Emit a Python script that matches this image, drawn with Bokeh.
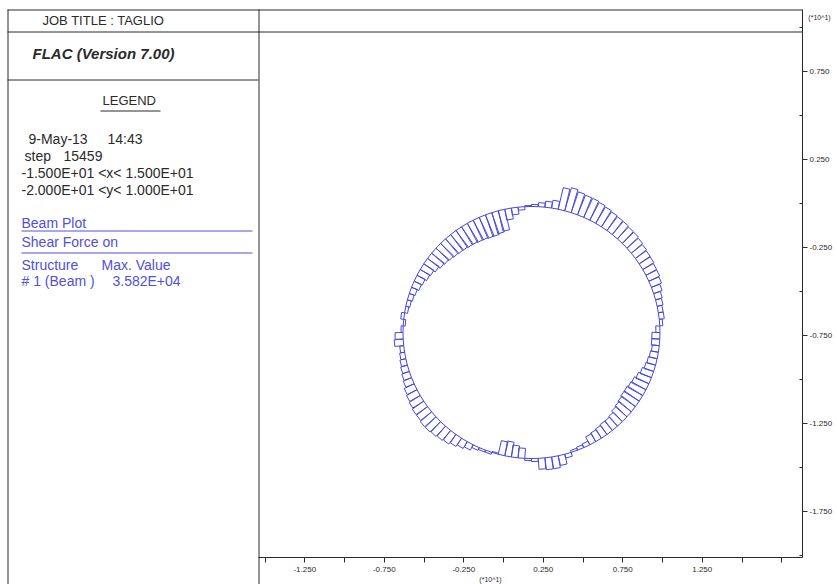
import numpy as np
from bokeh.plotting import figure
from bokeh.models import Range1d, LinearAxis, FixedTicker, PrintfTickFormatter
from bokeh.embed import file_html
from bokeh.resources import INLINE
from bokeh.core.properties import value

# ---------------- data ----------------
# shear force per beam element (kN), elements counter-clockwise from the east springline
shear_kN = [
    -6.0, 4.5, 7.5, 7.2, 9.0, 10.4, 13.4, 16.4, 17.9, 18.2,
    19.4, 19.8, 20.9, 22.4, 23.9, 24.1, 25.4, 25.8, 26.9, 28.4,
    29.9, 31.3, 31.6, 32.8, 35.82, 33.1, 11.9, 9.0, 6.0, 3.0,
    1.5, -4.5, -10.4, -16.4, -31.3, -32.8, -34.3, -34.0, -32.8, -32.5,
    -31.3, -31.0, -29.9, -29.5, -28.4, -26.9, -25.4, -23.9, -20.9, -17.9,
    -16.4, -13.4, -11.9, -9.0, -7.5, -6.0, -4.5, 4.5, -3.0, 3.0,
    11.9, 13.4, 6.0, 7.5, 9.0, 10.4, 11.9, 13.4, 16.4, 17.9,
    19.4, 20.9, 20.9, 22.4, 22.4, 20.9, 19.4, 17.9, 14.9, 11.9,
    9.0, 4.5, 3.0, 3.0, -1.5, -20.9, -22.4, -17.9, -14.9, 3.0,
    4.5, 16.4, 17.9, 17.9, 14.9, 6.0, -3.0, -4.5, -6.0, -13.4,
    -14.9, -16.4, -17.9, -17.9, -19.4, -22.4, -23.9, -25.4, -26.9, -26.9,
    -25.4, -23.9, -20.9, -17.9, -14.9, -13.4, -11.9, -10.4, -11.9, -11.9,
]
max_shear_kN = 35.82
tunnel_cx = 0.176   # (*10^1 m)
tunnel_cy = -0.733
tunnel_rx = 0.808
tunnel_ry = 0.716

x_ticks_major = [-1.25, -0.75, -0.25, 0.25, 0.75, 1.25]
x_ticks_minor = [-1.5, -1.0, -0.5, 0.0, 0.5, 1.0, 1.5, 1.75]
y_ticks_major = [0.75, 0.25, -0.25, -0.75, -1.25, -1.75]
y_ticks_minor = [1.0, 0.5, 0.0, -0.5, -1.0, -1.5, -2.0]

job_title = "JOB TITLE : TAGLIO"
program = "FLAC (Version 7.00)"
legend_head = "LEGEND"
date_txt, time_txt = "9-May-13", "14:43"
step_lbl, step_val = "step", "15459"
x_lim_txt = "-1.500E+01 <x< 1.500E+01"
y_lim_txt = "-2.000E+01 <y< 1.000E+01"
plot_kind = "Beam Plot"
plot_item = "Shear Force on"
col_struct, col_max = "Structure", "Max. Value"
struct_name, struct_max = "# 1 (Beam )", "3.582E+04"
scale_txt = "(*10^1)"

# ---------------- styles / layout ----------------
FONT = "Liberation Sans"
INK = "#2a2a2a"
BLUE = "#5050d8"
BAR = "#4848d8"
W, H = 837, 584
SX, SY = 159.0, 176.0          # screen px per axis unit
X0_PX, Y075_PX = 503.0, 71.0   # page px of x=0 and y=0.75
BAR_PX_MAX = 24.0
FRAME_L, FRAME_R, FRAME_T, FRAME_B = 258, 802, 9, 557

def dx(px):
    return (px - X0_PX) / SX

def dy(py):
    return 0.75 - (py - Y075_PX) / SY

p = figure(width=W, height=H, x_range=Range1d(dx(0), dx(W)), y_range=Range1d(dy(H), dy(0)),
           output_backend="svg", toolbar_location=None,
           x_axis_location=None, y_axis_location=None, min_border=0)
p.extra_x_ranges = {"page": Range1d(0, W)}
p.extra_y_ranges = {"page": Range1d(H, 0)}
p.grid.grid_line_color = None
p.outline_line_color = None
PG = dict(x_range_name="page", y_range_name="page")

# frame / legend box lines (page pixel coords)
p.segment(x0=[7, 7, 7, 7.5, 258.5], y0=[9.5, 31.5, 79.5, 9, 9],
          x1=[802, 802, 258, 7.5, 258.5], y1=[9.5, 31.5, 79.5, 584, 584],
          line_color=INK, line_width=1, **PG)
p.segment(x0=[100], y0=[110.5], x1=[160], y1=[110.5], line_color=INK, line_width=1, **PG)
p.segment(x0=[21, 21], y0=[230.5, 252.5], x1=[252, 252], y1=[230.5, 252.5],
          line_color=BLUE, line_width=1, **PG)

def txt(x, y, s, size, color=INK, style="normal", align="left"):
    p.text(x=[x], y=[y], text=[s], text_font=value(FONT), text_font_size=size,
           text_color=color, text_baseline="middle", text_align=align,
           text_font_style=style, **PG)

txt(42, 20, job_title, "13px")
txt(32, 53, program, "15px", style="bold italic")
txt(102, 100, legend_head, "13px")
txt(28, 138, date_txt, "14px")
txt(107, 138, time_txt, "14px")
txt(24, 155, step_lbl, "14px")
txt(63, 155, step_val, "14px")
txt(21, 172, x_lim_txt, "14px")
txt(21, 189, y_lim_txt, "14px")
txt(21, 222, plot_kind, "14px", BLUE)
txt(21, 241, plot_item, "14px", BLUE)
txt(21, 264, col_struct, "14px", BLUE)
txt(101, 264, col_max, "14px", BLUE)
txt(21, 280, struct_name, "14px", BLUE)
txt(112, 280, struct_max, "14px", BLUE)
txt(819, 17, scale_txt, "7px", align="center")
txt(490, 579, scale_txt, "7px", align="center")

# ---------------- shear force diagram on the beam ----------------
n = len(shear_kN)
th = np.linspace(0.0, 2 * np.pi, n + 1)
bx = tunnel_cx + tunnel_rx * np.cos(th)
by = tunnel_cy + tunnel_ry * np.sin(th)
px_per_kN = BAR_PX_MAX / max_shear_kN
xs, ys = [], []
for i, v in enumerate(shear_kN):
    x0, y0, x1, y1 = bx[i], by[i], bx[i + 1], by[i + 1]
    dxp, dyp = (x1 - x0) * SX, (y1 - y0) * SY
    L = np.hypot(dxp, dyp)
    ox, oy = dyp / L, -dxp / L
    d = v * px_per_kN
    ex, ey = ox * d / SX, oy * d / SY
    xs.append([x0, x1, x1 + ex, x0 + ex])
    ys.append([y0, y1, y1 + ey, y0 + ey])
p.patches(xs, ys, fill_color=None, line_color=BAR, line_width=1)

# ---------------- axes ----------------
xa = LinearAxis(ticker=FixedTicker(ticks=x_ticks_major, minor_ticks=x_ticks_minor),
                formatter=PrintfTickFormatter(format="%.3f"),
                fixed_location=dy(FRAME_B), bounds=(dx(FRAME_L), dx(FRAME_R)))
ya = LinearAxis(ticker=FixedTicker(ticks=y_ticks_major, minor_ticks=y_ticks_minor),
                formatter=PrintfTickFormatter(format="%.3f"),
                fixed_location=dx(FRAME_R), bounds=(dy(FRAME_B), dy(FRAME_T)))
for ax in (xa, ya):
    ax.axis_line_color = INK
    ax.major_tick_line_color = INK
    ax.minor_tick_line_color = INK
    ax.major_tick_in = 0
    ax.major_tick_out = 5
    ax.major_label_text_font = FONT
    ax.major_label_text_font_size = "8px"
    ax.major_label_text_color = INK
xa.minor_tick_in = 0
xa.minor_tick_out = 5
xa.major_label_standoff = 4
ya.minor_tick_in = 3
ya.minor_tick_out = 0
ya.major_label_standoff = 2
p.add_layout(xa, "below")
p.add_layout(ya, "right")

open("out.html", "w").write(file_html(p, INLINE))
